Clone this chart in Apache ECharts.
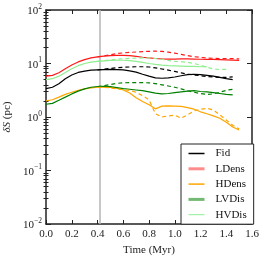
<!DOCTYPE html>
<html><head><meta charset="utf-8">
<script src="https://cdn.jsdelivr.net/npm/echarts@6/dist/echarts.min.js"></script>
<style>html,body{margin:0;padding:0;background:#fff}#c{width:266px;height:259px}</style>
</head><body><div id="c"></div>
<script>
const time = [0,0.05,0.1,0.15,0.2,0.25,0.3,0.35,0.4,0.45,0.5,0.55,0.6,0.65,0.7,0.75,0.8,0.85,0.9,0.95,1.0,1.05,1.1,1.15,1.2,1.25,1.3,1.35,1.4,1.45,1.5];
const restartTime = 0.425;
const xTicks = ['0.0','0.2','0.4','0.6','0.8','1.0','1.2','1.4','1.6'];
const yTicks = [0.01, 0.1, 1, 10, 100];

const fidSolid = [3.4,3.6,4.2,5.2,6.1,6.8,7.2,7.5,7.6,7.7,7.75,7.7,7.6,7.3,6.9,6.3,5.8,5.4,5.3,5.4,5.6,5.9,6.2,6.3,6.2,6.0,5.8,5.5,5.2,5.0,null];
const fidDash = [null,null,null,null,null,null,null,null,7.6,7.8,8.1,8.3,8.5,8.6,8.7,8.7,8.6,8.3,7.9,7.5,7.1,6.7,6.3,6.1,5.9,5.7,5.6,5.5,5.5,5.6,null];
const ldensSolid = [5.8,6.0,6.7,8.0,9.4,10.7,11.8,12.7,13.3,13.7,14.0,14.2,14.2,14.0,13.6,13.1,12.7,12.4,12.2,12.1,12.1,12.2,12.2,12.1,12.0,11.9,11.9,11.8,11.7,11.6,11.4];
const ldensDash = [null,null,null,null,null,null,null,null,13.3,13.9,14.6,15.3,15.8,16.1,16.4,16.7,16.9,17.0,16.8,16.3,15.6,14.8,14.0,13.4,13.0,12.7,12.5,12.4,12.4,12.3,12.2];
const hdensSolid = [2.0,2.1,2.35,2.65,2.9,3.15,3.35,3.5,3.62,3.62,3.58,3.45,3.2,2.8,2.3,1.95,1.7,1.42,1.6,1.62,1.6,1.58,1.5,1.4,1.25,1.15,1.05,0.95,0.8,0.65,0.57];
const hdensDash = [null,null,null,null,null,null,null,null,3.62,3.6,3.5,3.35,3.25,3.15,2.9,2.5,2.1,1.15,1.0,1.05,1.08,0.95,1.1,1.3,1.4,1.45,1.35,1.1,0.88,0.7,0.6];
const lvdisSolid = [1.73,1.8,2.05,2.35,2.7,3.05,3.35,3.6,3.72,3.75,3.7,3.55,3.4,3.3,3.2,3.1,2.95,2.8,2.7,2.75,2.85,2.95,3.05,3.1,3.0,2.95,2.85,2.75,2.65,2.6,null];
const lvdisDash = [null,null,null,null,null,null,null,null,3.72,3.85,4.05,4.25,4.35,4.4,4.4,4.4,4.35,4.2,4.0,3.8,3.6,3.35,3.1,2.9,2.75,2.65,2.7,2.9,3.15,3.3,null];
const hvdisSolid = [5.0,5.2,5.8,6.8,8.0,9.1,10.0,10.6,11.0,11.2,11.4,11.5,11.5,11.3,11.0,10.5,10.0,9.6,9.3,9.1,9.0,8.9,8.8,8.8,8.7,8.7,null,null,null,null,null];
const hvdisDash = [null,null,null,null,null,null,null,null,11.0,11.3,11.7,12.0,12.3,12.5,12.6,12.7,12.7,12.4,12.0,11.4,11.0,10.8,10.5,10.0,9.3,8.5,7.9,7.7,7.8,null,null];

const names = ['Fid','LDens','HDens','LVDis','HVDis'];
const colors = ['#000000','#ff1a1a','#ffa500','#008000','#90ee90'];
const solids = [fidSolid, ldensSolid, hdensSolid, lvdisSolid, hvdisSolid];
const dashes = [fidDash, ldensDash, hdensDash, lvdisDash, hvdisDash];
const legendLines = [
  {color:'#000000', width:1.5},
  {color:'rgba(255,0,0,0.45)', width:3},
  {color:'#ffa500', width:1.5},
  {color:'rgba(0,128,0,0.55)', width:3},
  {color:'#90ee90', width:1}
];

const FONT = 'Liberation Serif';
const pairs = arr => time.map((t,i)=>[t, arr[i]]).filter(d => d[1] != null);

const series = [];
names.forEach((n,i)=>{
  const s = {
    name: n, type:'line', symbol:'none', data: pairs(solids[i]),
    lineStyle:{color:colors[i], width:1.2}, itemStyle:{color:colors[i]},
    xAxisIndex:0, yAxisIndex:0, z: 3
  };
  if (i === 0) {
    s.markLine = {silent:true, symbol:['none','none'], label:{show:false},
      lineStyle:{color:'#b4b4b4', width:1.5, type:'solid'},
      data:[{xAxis: restartTime}], z:1};
  }
  series.push(s);
});
names.forEach((n,i)=>{
  series.push({
    name: n + ' restart', type:'line', symbol:'none', data: pairs(dashes[i]),
    lineStyle:{color:colors[i], width:1.2, type:[4,3]}, itemStyle:{color:colors[i]},
    xAxisIndex:0, yAxisIndex:0, z: 3
  });
});

const minorExp = [];
for (let e=-2; e<2; e++) for (let k=2; k<=9; k++) minorExp.push(e + Math.log10(k));

const axisLine = {show:true, onZero:false, lineStyle:{color:'#222', width:1.5}};
const tickStyle = {color:'#222', width:1};

const chart = echarts.init(document.getElementById('c'), null, {renderer:'canvas'});
chart.setOption({
  animation:false,
  backgroundColor:'#fff',
  grid:{left:46, right:14, top:10, bottom:35, containLabel:false, outerBoundsMode:'none'},
  legend:{
    data: names.map((n,i)=>({name:n, lineStyle:legendLines[i],
      itemStyle:{color:'rgba(0,0,0,0)', borderColor:'rgba(0,0,0,0)', borderWidth:0, opacity:0}})),
    orient:'vertical', left:181, top:144,
    itemWidth:16, itemHeight:10, itemGap:4.3,
    padding:[4,7,4,6],
    borderColor:'#222', borderWidth:1, backgroundColor:'#fff',
    selectedMode:false,
    textStyle:{fontFamily:FONT, fontSize:11, color:'#111', padding:[0,0,0,6]}
  },
  xAxis:[
    {type:'value', min:0, max:1.6, interval:0.2, position:'bottom',
     axisLine, axisTick:{inside:true, length:4, lineStyle:tickStyle},
     axisLabel:{formatter: v => xTicks[Math.round(v/0.2)], fontFamily:FONT, fontSize:11, color:'#222', margin:5},
     splitLine:{show:false},
     name:'Time (Myr)', nameLocation:'middle', nameGap:21,
     nameTextStyle:{fontFamily:FONT, fontSize:11, color:'#222'}},
    {type:'value', min:0, max:1.6, interval:0.2, position:'top',
     axisLine, axisTick:{inside:true, length:4, lineStyle:tickStyle},
     axisLabel:{show:false}, splitLine:{show:false}}
  ],
  yAxis:[
    {type:'log', logBase:10, min:yTicks[0], max:yTicks[yTicks.length-1], splitNumber:4, position:'left',
     axisLine, axisTick:{inside:true, length:5, lineStyle:tickStyle},
     axisLabel:{margin:4, formatter: v => { const e = Math.round(Math.log10(v)); return '{b|10}{s|' + (e<0 ? '\u2212' + (-e) : e) + '}'; },
       rich:{b:{fontFamily:FONT, fontSize:11, color:'#222', lineHeight:14, verticalAlign:'bottom'},
             s:{fontFamily:FONT, fontSize:7.5, color:'#222', lineHeight:14, verticalAlign:'top'}}},
     splitLine:{show:false},
     name:'{i|\u03b4S} (pc)', nameLocation:'middle', nameGap:30, nameRotate:90,
     nameTextStyle:{fontFamily:FONT, fontSize:11, color:'#222', rich:{i:{fontFamily:FONT, fontSize:11, fontStyle:'italic', color:'#222'}}}},
    {type:'log', logBase:10, min:yTicks[0], max:yTicks[yTicks.length-1], splitNumber:4, position:'right',
     axisLine, axisTick:{inside:true, length:5, lineStyle:tickStyle},
     axisLabel:{show:false}, splitLine:{show:false}},
    {type:'value', min:-2, max:2, position:'left',
     axisLine:{show:false}, axisTick:{show:true, inside:true, length:2.5, customValues:minorExp, lineStyle:tickStyle},
     axisLabel:{show:false}, splitLine:{show:false}},
    {type:'value', min:-2, max:2, position:'right',
     axisLine:{show:false}, axisTick:{show:true, inside:true, length:2.5, customValues:minorExp, lineStyle:tickStyle},
     axisLabel:{show:false}, splitLine:{show:false}}
  ],
  series
});
</script>
</body></html>
